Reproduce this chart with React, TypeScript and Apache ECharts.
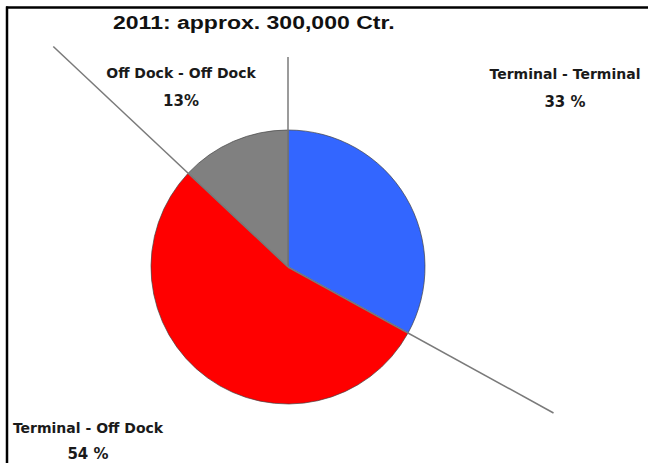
import React, { useEffect, useRef } from "react";
import * as echarts from "echarts";

const title = "2011: approx. 300,000 Ctr.";
const categories = ["Terminal - Terminal", "Terminal - Off Dock", "Off Dock - Off Dock"];
const values = [33, 54, 13];
const percentLabels = ["33 %", "54 %", "13%"];
const colors = ["#3366FF", "#FF0000", "#808080"];

const CX = 288;
const CY = 267;
const R = 137;

export default function App() {
  const ref = useRef<HTMLDivElement>(null);
  useEffect(() => {
    if (!ref.current) return;
    const chart = echarts.init(ref.current, null, { renderer: "svg" });
    const total = values.reduce((a, b) => a + b, 0);
    const bounds: number[] = [];
    let acc = 0;
    for (const v of values) {
      bounds.push((acc / total) * 360);
      acc += v;
    }
    const lineLens = [210, 303, 322];
    const lines = bounds.map((a, i) => {
      const rad = (a * Math.PI) / 180;
      return {
        type: "line",
        shape: { x1: CX, y1: CY, x2: CX + Math.sin(rad) * lineLens[i], y2: CY - Math.cos(rad) * lineLens[i] },
        style: { stroke: "#7a7a7a", lineWidth: 1.5 },
        z: 10,
      };
    });
    const labelPos = [
      [565, 74, 102],
      [88, 428, 454],
      [181, 73, 101],
    ];
    const texts: any[] = [];
    categories.forEach((c, i) => {
      texts.push({
        type: "text",
        x: labelPos[i][0],
        y: labelPos[i][1],
        style: { text: c, fill: "#1a1a1a", font: "bold 14px 'DejaVu Sans'", align: "center", verticalAlign: "middle" },
      });
      texts.push({
        type: "text",
        x: labelPos[i][0],
        y: labelPos[i][2],
        style: { text: percentLabels[i], fill: "#1a1a1a", font: "bold 15px 'DejaVu Sans'", align: "center", verticalAlign: "middle" },
      });
    });
    chart.setOption({
      animation: false,
      backgroundColor: "#fff",
      series: [
        {
          type: "pie",
          center: [CX, CY],
          radius: R,
          startAngle: 90,
          clockwise: true,
          label: { show: false },
          labelLine: { show: false },
          emphasis: { disabled: true },
          itemStyle: { borderColor: "#444", borderWidth: 0.7 },
          data: categories.map((c, i) => ({ name: c, value: values[i], itemStyle: { color: colors[i] } })),
        },
      ],
      graphic: [
        { type: "line", shape: { x1: 6, y1: 7.5, x2: 648, y2: 7.5 }, style: { stroke: "#000", lineWidth: 2.5 } },
        { type: "line", shape: { x1: 7, y1: 6.5, x2: 7, y2: 463 }, style: { stroke: "#000", lineWidth: 2.5 } },
        {
          type: "text",
          x: 113,
          y: 22,
          scaleX: 1.28,
          style: {
            text: title,
            fill: "#111",
            font: "bold 18px 'Liberation Sans', Arial, sans-serif",
            align: "left",
            verticalAlign: "middle",
          },
        },
        ...lines,
        ...texts,
      ],
    });
    return () => chart.dispose();
  }, []);
  return <div ref={ref} style={{ width: 648, height: 463, position: "absolute", left: 0, top: 0 }} />;
}
